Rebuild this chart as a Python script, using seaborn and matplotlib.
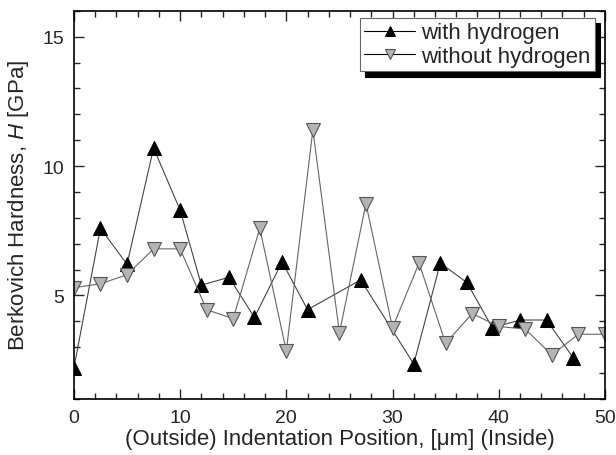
import matplotlib
matplotlib.use("Agg")
import matplotlib.pyplot as plt
from matplotlib.ticker import MultipleLocator
import pandas as pd
import seaborn as sns

# with hydrogen (black, up triangles)
with_h_x = [0, 2.5, 5, 7.5, 10, 12, 14.6, 17, 19.6, 22, 27, 32, 34.5, 37, 39.4, 42, 44.5, 47]
with_h_y = [2.2, 7.6, 6.2, 10.7, 8.3, 5.4, 5.7, 4.15, 6.3, 4.45, 5.6, 2.35, 6.25, 5.5, 3.75, 4.05, 4.05, 2.6]

# without hydrogen (gray, down triangles)
without_h_x = [0, 2.5, 5, 7.5, 10, 12.5, 15, 17.5, 20, 22.5, 25, 27.5, 30, 32.5, 35, 37.5, 40, 42.5, 45, 47.5, 50]
without_h_y = [5.3, 5.45, 5.8, 6.8, 6.8, 4.45, 4.1, 7.6, 2.85, 11.4, 3.55, 8.55, 3.75, 6.25, 3.15, 4.3, 3.8, 3.7, 2.7, 3.5, 3.5]

df_with = pd.DataFrame({"x": with_h_x, "y": with_h_y})
df_without = pd.DataFrame({"x": without_h_x, "y": without_h_y})

sns.set_style("ticks")
plt.rcParams["font.family"] = ["Liberation Sans", "DejaVu Sans"]
plt.rcParams["mathtext.fontset"] = "custom"
plt.rcParams["mathtext.rm"] = "Liberation Sans"
plt.rcParams["mathtext.it"] = "Liberation Sans:italic"

fig = plt.figure(figsize=(6.16, 4.56), dpi=100)
ax = fig.add_axes([0.120, 0.123, 0.862, 0.851])

sns.lineplot(data=df_with, x="x", y="y", ax=ax, color="#444444", linewidth=0.8,
             marker="^", markersize=10, markerfacecolor="black",
             markeredgecolor="black", label="with hydrogen")
sns.lineplot(data=df_without, x="x", y="y", ax=ax, color="#666666", linewidth=0.8,
             marker="v", markersize=10, markerfacecolor="#b4b4b4",
             markeredgecolor="#555555", markeredgewidth=0.8, label="without hydrogen")

ax.set_xlim(0, 50)
ax.set_ylim(1, 16)
ax.xaxis.set_major_locator(MultipleLocator(10))
ax.xaxis.set_minor_locator(MultipleLocator(2))
ax.yaxis.set_major_locator(MultipleLocator(5))
ax.yaxis.set_minor_locator(MultipleLocator(1))
ax.tick_params(which="both", direction="in", top=True, right=True, labelsize=14, width=1)
ax.tick_params(which="major", length=7, pad=7)
ax.tick_params(which="minor", length=4)
for sp in ax.spines.values():
    sp.set_linewidth(1.2)
    sp.set_color("black")

ax.set_xlabel("(Outside) Indentation Position, [\u03bcm] (Inside)", fontsize=16, labelpad=2)
ax.set_ylabel(r"Berkovich Hardness, $\mathit{H}$ [GPa]", fontsize=16, labelpad=8)

leg = ax.legend(loc="upper right", bbox_to_anchor=(0.981, 0.982), fontsize=16,
                frameon=True, fancybox=False,
                shadow={"color": "black", "alpha": 1, "ox": 4, "oy": -4},
                handlelength=2.3, handletextpad=0.25, borderpad=0.2, labelspacing=0.1,
                borderaxespad=0.0)
leg.get_frame().set_edgecolor("#666666")
leg.get_frame().set_linewidth(0.8)
for h in leg.legend_handles:
    h.set_markersize(7)
    h.set_color("black")

fig.savefig("out.png", dpi=100)
